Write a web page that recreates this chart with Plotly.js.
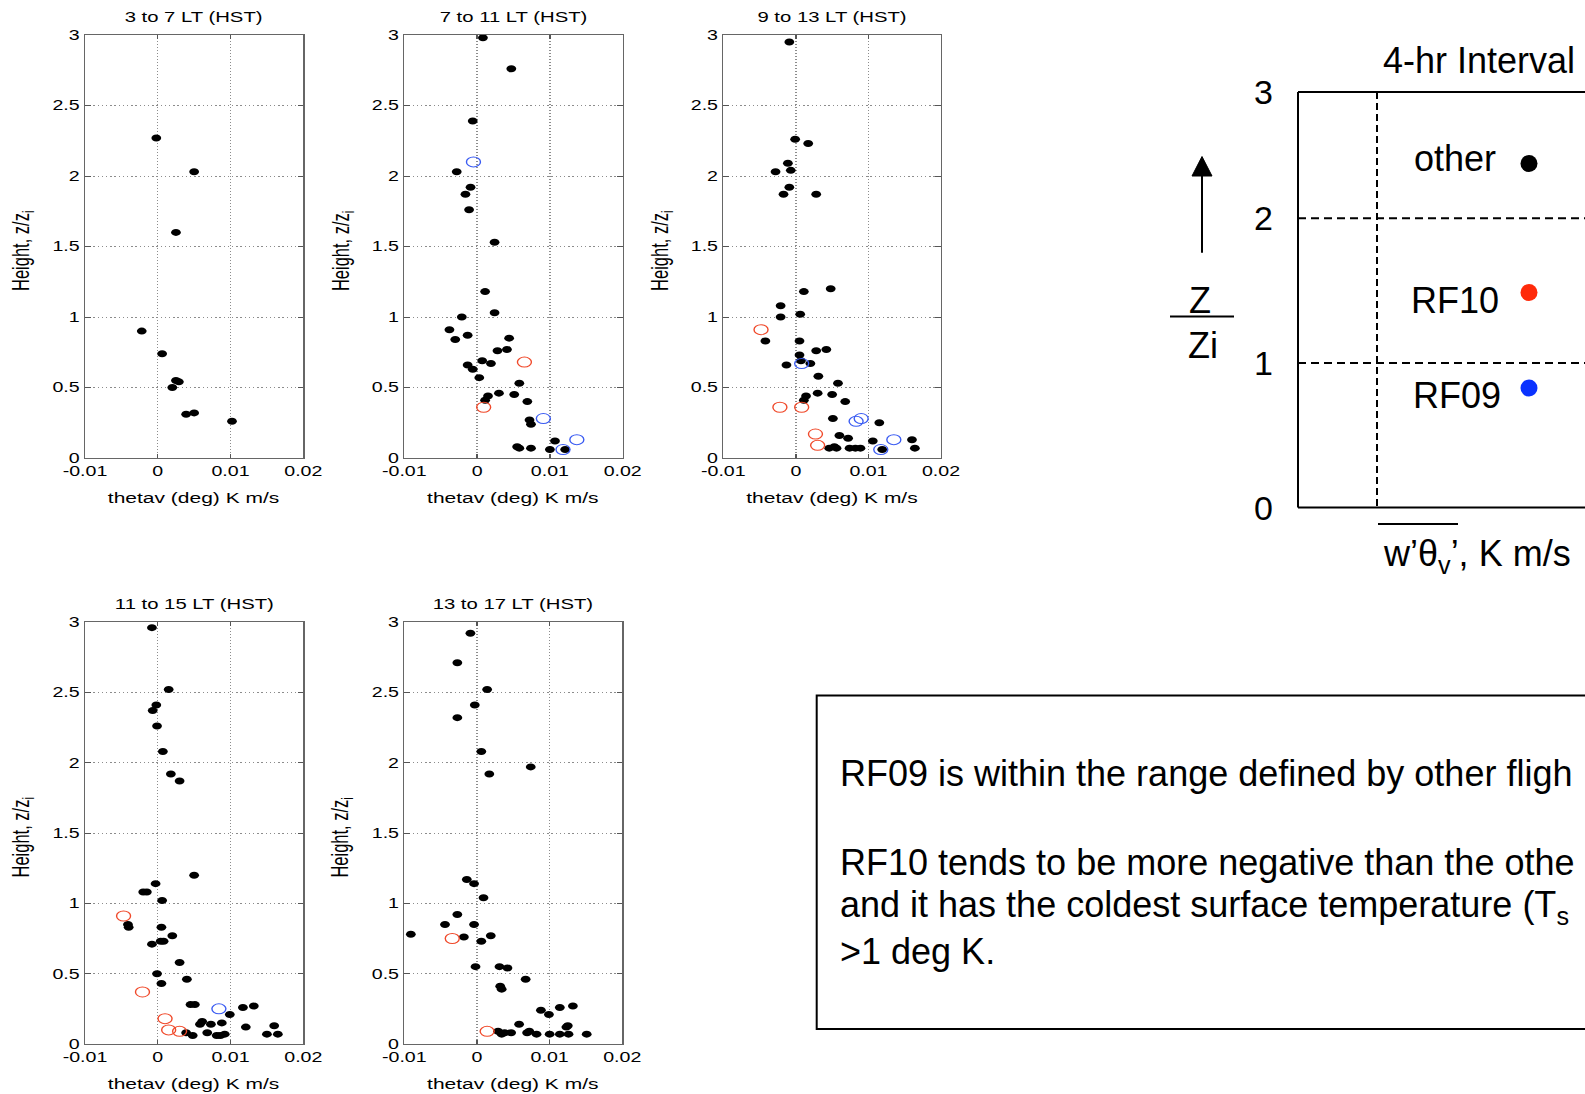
<!DOCTYPE html>
<html><head><meta charset="utf-8">
<script src="https://cdn.plot.ly/plotly-3.0.1.min.js"></script>
<style>
html,body{margin:0;padding:0;background:#fff;overflow:hidden;}
#wrap{position:relative;width:1585px;height:1094px;overflow:hidden;background:#fff;}
#right{position:absolute;left:0;top:0;width:1585px;height:1094px;}
#panels{position:absolute;left:0;top:0;width:700px;height:1094px;transform:scaleX(1.4);transform-origin:0 0;}
</style></head><body>
<div id="wrap"><div id="right"></div><div id="panels"></div></div>
<script>
// ---------------- DATA ----------------
const panelTitles = ['3 to 7 LT (HST)', '7 to 11 LT (HST)', '9 to 13 LT (HST)', '11 to 15 LT (HST)', '13 to 17 LT (HST)'];
const xTickVals = [-0.01, 0, 0.01, 0.02];
const xTickText = ['-0.01', '0', '0.01', '0.02'];
const yTickVals = [0, 0.5, 1, 1.5, 2, 2.5, 3];
const yTickText = ['0', '0.5', '1', '1.5', '2', '2.5', '3'];
const xTitle = 'thetav (deg) K m/s';
const yTitle = 'Height, z/z<sub>i</sub>';

// 3 to 7 LT
const other1X = [-0.0002, 0.0050, 0.0025, -0.0022, 0.0006, 0.0020, 0.0025, 0.0029, 0.0039, 0.0050, 0.0102];
const other1Y = [2.27, 2.03, 1.60, 0.90, 0.74, 0.50, 0.55, 0.54, 0.31, 0.32, 0.26];
const rf10_1X = [], rf10_1Y = [];
const rf09_1X = [], rf09_1Y = [];

// 7 to 11 LT
const other2X = [0.0008,0.0047,-0.0006,-0.0028,-0.0009,-0.0016,-0.0011,0.0024,0.0011,0.0024,-0.0021,-0.0038,-0.0030,-0.0013,0.0044,0.0041,0.0028,0.0007,0.0019,-0.0013,-0.0006,0.0003,0.0058,0.0030,0.0015,0.0011,0.0051,0.0069,0.0072,0.0074,0.0055,0.0058,0.0074,0.0100,0.0107,0.0121];
const other2Y = [2.98,2.76,2.39,2.03,1.92,1.87,1.76,1.53,1.18,1.03,1.00,0.91,0.84,0.87,0.85,0.77,0.76,0.69,0.67,0.66,0.63,0.57,0.53,0.46,0.44,0.41,0.45,0.40,0.27,0.24,0.08,0.07,0.07,0.06,0.12,0.06];
const rf10_2X = [0.0065, 0.0009];
const rf10_2Y = [0.68, 0.36];
const rf09_2X = [-0.0005, 0.0091, 0.0137, 0.0118];
const rf09_2Y = [2.10, 0.28, 0.13, 0.06];

// 9 to 13 LT
const other3X = [-0.0009,-0.0001,0.0017,-0.0011,-0.0007,-0.0028,-0.0009,-0.0017,0.0028,0.0048,0.0011,-0.0021,-0.0021,0.0006,-0.0042,0.0005,0.0005,0.0028,0.0042,0.0007,0.0020,-0.0013,0.0031,0.0058,0.0030,0.0014,0.0011,0.0050,0.0068,0.0051,0.0115,0.0060,0.0072,0.0106,0.0160,0.0164,0.0046,0.0053,0.0056,0.0074,0.0082,0.0089,0.0119];
const other3Y = [2.95,2.26,2.23,2.09,2.04,2.03,1.92,1.87,1.87,1.20,1.18,1.08,1.00,1.02,0.83,0.83,0.73,0.76,0.77,0.69,0.67,0.66,0.58,0.53,0.46,0.44,0.41,0.45,0.40,0.28,0.25,0.16,0.14,0.12,0.13,0.07,0.07,0.08,0.07,0.07,0.07,0.07,0.06];
const rf10_3X = [-0.0048, -0.0022, 0.0008, 0.0027, 0.0030];
const rf10_3Y = [0.91, 0.36, 0.36, 0.17, 0.09];
const rf09_3X = [0.0008, 0.0083, 0.0090, 0.0135, 0.0117];
const rf09_3Y = [0.67, 0.26, 0.28, 0.13, 0.06];

// 11 to 15 LT
const other4X = [-0.0008,0.0015,-0.0002,-0.0007,-0.0001,0.0007,0.0018,0.0030,0.0050,-0.0003,-0.0020,-0.0015,0.0006,-0.0041,-0.0040,0.0005,0.0020,0.0004,0.0008,-0.0008,0.0030,-0.0001,0.0040,0.0005,0.0045,0.0051,0.0117,0.0132,0.0099,0.0061,0.0058,0.0073,0.0088,0.0121,0.0160,0.0039,0.0048,0.0068,0.0081,0.0086,0.0092,0.0150,0.0165];
const other4Y = [2.96,2.52,2.41,2.37,2.26,2.08,1.92,1.87,1.20,1.14,1.08,1.08,1.02,0.85,0.83,0.83,0.77,0.73,0.73,0.71,0.58,0.50,0.46,0.43,0.28,0.28,0.26,0.27,0.21,0.16,0.14,0.14,0.15,0.12,0.13,0.08,0.06,0.08,0.06,0.06,0.07,0.07,0.07];
const rf10_4X = [-0.0047, -0.0021, 0.0010, 0.0015, 0.0030];
const rf10_4Y = [0.91, 0.37, 0.18, 0.10, 0.09];
const rf09_4X = [0.0084];
const rf09_4Y = [0.25];

// 13 to 17 LT
const other5X = [-0.0009,-0.0027,0.0014,-0.0003,-0.0027,0.0006,0.0017,0.0074,-0.0014,-0.0004,0.0009,-0.0027,-0.0044,-0.0004,-0.0091,-0.0018,0.0006,0.0019,-0.0002,0.0031,0.0042,0.0067,0.0032,0.0034,0.0088,0.0099,0.0114,0.0132,0.0058,0.0123,0.0125,0.0029,0.0034,0.0038,0.0047,0.0069,0.0072,0.0082,0.0100,0.0114,0.0126,0.0151];
const other5Y = [2.92,2.71,2.52,2.41,2.32,2.08,1.92,1.97,1.17,1.14,1.04,0.92,0.85,0.85,0.78,0.76,0.73,0.77,0.55,0.55,0.54,0.46,0.41,0.39,0.24,0.21,0.26,0.27,0.14,0.12,0.13,0.09,0.07,0.08,0.08,0.08,0.09,0.07,0.07,0.07,0.07,0.07];
const rf10_5X = [-0.0034, 0.0014];
const rf10_5Y = [0.75, 0.09];
const rf09_5X = [], rf09_5Y = [];

// schematic / legend texts
const schemTickText = ['0', '1', '2', '3'];
const legendNames = ['other', 'RF10', 'RF09'];
const legendColors = ['#000000', '#ff2a0a', '#0a32ff'];
// the note box runs off the right edge of the slide: only the visible part of each line is kept
const noteLines = [
  'RF09 is within the range defined by other fligh',
  'RF10 tends to be more negative than the othe',
  'and it has the coldest surface temperature (T<sub>s</sub>',
  '&gt;1 deg K.'
];

// ---------------- PANELS (stretched horizontally like the original slide) ----------------
const S = 1.4, WA = 700, H = 1094, W = 1585;
const FONT = 'Liberation Sans, Arial, Helvetica, sans-serif';
const panelLeft = [85, 404.3, 723.3, 85, 404.3];
const panelRight = [303.3, 622.7, 941, 303.3, 622.3];
const panelTop = [35, 35, 35, 622, 622];
const panelBottom = [458, 458, 458, 1044, 1044];
const titleY = [17, 17, 17, 604, 604];
const xTitleY = [497, 497, 497, 1083, 1083];

const otherX = [other1X, other2X, other3X, other4X, other5X];
const otherY = [other1Y, other2Y, other3Y, other4Y, other5Y];
const rf10X = [rf10_1X, rf10_2X, rf10_3X, rf10_4X, rf10_5X];
const rf10Y = [rf10_1Y, rf10_2Y, rf10_3Y, rf10_4Y, rf10_5Y];
const rf09X = [rf09_1X, rf09_2X, rf09_3X, rf09_4X, rf09_5X];
const rf09Y = [rf09_1Y, rf09_2Y, rf09_3Y, rf09_4Y, rf09_5Y];

const ax = (i) => (i === 0 ? '' : String(i + 1));
const traces = [];
const layoutA = {
  width: WA, height: H, margin: {l: 0, r: 0, t: 0, b: 0},
  paper_bgcolor: 'rgba(0,0,0,0)', plot_bgcolor: '#ffffff',
  showlegend: false, font: {family: FONT, color: '#000'},
  annotations: []
};
for (let i = 0; i < 5; i++) {
  const xa = 'x' + ax(i), ya = 'y' + ax(i);
  traces.push({x: otherX[i], y: otherY[i], xaxis: xa, yaxis: ya, type: 'scatter', mode: 'markers',
    marker: {color: '#000', size: 7, line: {width: 0}}, hoverinfo: 'skip'});
  if (rf10X[i].length) traces.push({x: rf10X[i], y: rf10Y[i], xaxis: xa, yaxis: ya, type: 'scatter', mode: 'markers',
    marker: {symbol: 'circle-open', color: '#f0492a', size: 10, line: {width: 1}}, hoverinfo: 'skip'});
  if (rf09X[i].length) traces.push({x: rf09X[i], y: rf09Y[i], xaxis: xa, yaxis: ya, type: 'scatter', mode: 'markers',
    marker: {symbol: 'circle-open', color: '#3b5cf2', size: 10, line: {width: 1}}, hoverinfo: 'skip'});
  const d0 = panelLeft[i] / S / WA, d1 = panelRight[i] / S / WA;
  layoutA['xaxis' + ax(i)] = {
    domain: [d0, d1], range: [-0.01, 0.02], anchor: ya,
    tickvals: xTickVals, ticktext: xTickText, ticks: 'inside', ticklen: 4, tickcolor: '#555',
    showline: true, mirror: 'ticks', linecolor: '#666', linewidth: 1,
    showgrid: true, gridcolor: '#8c8c8c', gridwidth: 1, griddash: '1px,2px', zeroline: false,
    tickfont: {family: FONT, size: 14, color: '#000'}, fixedrange: true
  };
  layoutA['yaxis' + ax(i)] = {
    domain: [1 - panelBottom[i] / H, 1 - panelTop[i] / H], range: [0, 3], anchor: xa,
    tickvals: yTickVals, ticktext: yTickText, ticks: 'inside', ticklen: 4, tickcolor: '#555',
    showline: true, mirror: 'ticks', linecolor: '#666', linewidth: 1,
    showgrid: true, gridcolor: '#8c8c8c', gridwidth: 1, griddash: '1px,2px', zeroline: false,
    tickfont: {family: FONT, size: 14, color: '#000'}, fixedrange: true
  };
  const cx = (d0 + d1) / 2;
  layoutA.annotations.push({xref: 'paper', yref: 'paper', x: cx, y: 1 - titleY[i] / H, text: panelTitles[i],
    showarrow: false, xanchor: 'center', yanchor: 'middle', font: {family: FONT, size: 14.5, color: '#000'}});
  layoutA.annotations.push({xref: 'paper', yref: 'paper', x: cx, y: 1 - xTitleY[i] / H, text: xTitle,
    showarrow: false, xanchor: 'center', yanchor: 'middle', font: {family: FONT, size: 15, color: '#000'}});
  layoutA.annotations.push({xref: 'paper', yref: 'paper', x: (panelLeft[i] - 63.3) / S / WA,
    y: 1 - ((panelTop[i] + panelBottom[i]) / 2 + 4) / H, text: yTitle, textangle: -90,
    showarrow: false, xanchor: 'center', yanchor: 'middle', font: {family: FONT, size: 16.5, color: '#000'}});
}
Plotly.newPlot('panels', traces, layoutA, {staticPlot: true, displayModeBar: false});

// ---------------- SCHEMATIC + NOTE BOX ----------------
const px = (x) => x / W, py = (y) => 1 - y / H;
const shapes = [];
const line = (x0, y0, x1, y1, w, dash) => shapes.push({type: 'line', xref: 'paper', yref: 'paper',
  x0: px(x0), y0: py(y0), x1: px(x1), y1: py(y1), line: {color: '#000', width: w, dash: dash || 'solid'}});
const boxL = 1298, boxT = 92, boxB = 507.5, boxR = 1620;
const levelY = [507.5, 362.9, 218.3, 92];
line(boxL, boxT, boxR, boxT, 2);
line(boxL, boxT, boxL, boxB, 2);
line(boxL, boxB, boxR, boxB, 2);
line(boxL, levelY[1], boxR, levelY[1], 2, '8px,5px');
line(boxL, levelY[2], boxR, levelY[2], 2, '8px,5px');
line(1377, boxT, 1377, boxB, 2, '7px,4px');
// arrow
line(1202, 252.7, 1202, 172, 2);
shapes.push({type: 'path', xref: 'paper', yref: 'paper', fillcolor: '#000', line: {color: '#000', width: 1},
  path: `M ${px(1202)} ${py(156.5)} L ${px(1192)} ${py(176)} L ${px(1212)} ${py(176)} Z`});
// fraction bar
line(1170, 316.5, 1234, 316.5, 2);
// overline
line(1378, 524, 1458, 524, 2);
// note box
shapes.push({type: 'rect', xref: 'paper', yref: 'paper', x0: px(816.7), y0: py(1029), x1: px(1620), y1: py(695.4),
  line: {color: '#000', width: 2}, fillcolor: 'rgba(0,0,0,0)'});
// legend dots
const dotY = [163.5, 292.5, 388];
dotY.forEach((y, k) => shapes.push({type: 'circle', xref: 'paper', yref: 'paper',
  x0: px(1520.5), x1: px(1537.5), y0: py(y + 8.5), y1: py(y - 8.5), fillcolor: legendColors[k], line: {width: 0}}));

const annB = [];
const txt = (x, y, t, size, anchor) => annB.push({xref: 'paper', yref: 'paper', x: px(x), y: py(y), text: t,
  showarrow: false, xanchor: anchor || 'center', yanchor: 'middle', font: {family: FONT, size: size, color: '#000'}});
schemTickText.forEach((t, k) => txt(1263.5, levelY[k], t, 34));
txt(1381, 61, '4-hr Interval', 36, 'left');
const legendTextY = [158, 300.5, 396];
const legendTextX = [1455, 1455, 1457];
legendNames.forEach((t, k) => txt(legendTextX[k], legendTextY[k], t, 36));
txt(1200, 300, 'Z', 36);
txt(1203, 345, 'Zi', 36);
txt(1381, 556, 'w’θ<sub>v</sub>’, K m/s', 36, 'left');
const noteY = [773, 862, 907, 951];
noteLines.forEach((t, k) => txt(838, noteY[k], t, 36, 'left'));

const layoutB = {
  width: W, height: H, margin: {l: 0, r: 0, t: 0, b: 0},
  paper_bgcolor: 'rgba(0,0,0,0)', plot_bgcolor: 'rgba(0,0,0,0)', showlegend: false,
  xaxis: {visible: false, range: [0, 1], fixedrange: true},
  yaxis: {visible: false, range: [0, 1], fixedrange: true},
  shapes: shapes, annotations: annB
};
Plotly.newPlot('right', [], layoutB, {staticPlot: true, displayModeBar: false});
</script>
</body></html>
